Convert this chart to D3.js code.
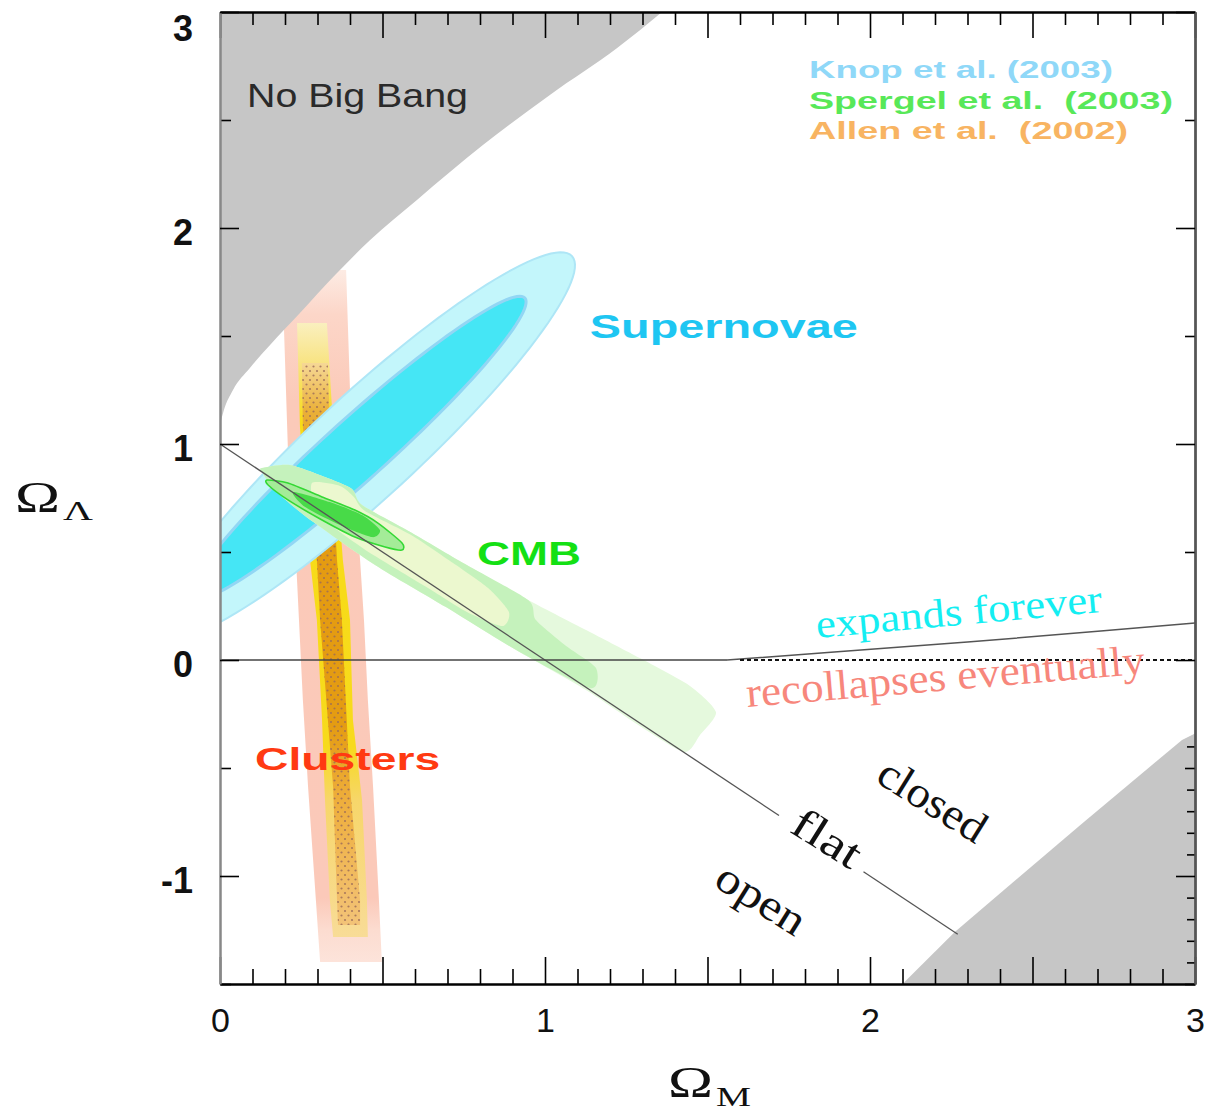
<!DOCTYPE html>
<html>
<head>
<meta charset="utf-8">
<script src="https://cdn.jsdelivr.net/npm/d3@7"></script>
<style>
  body { margin: 0; background: #fff; }
  svg { display: block; }
  .sans { font-family: "Liberation Sans", Arial, sans-serif; }
  .serif { font-family: "Liberation Serif", "Times New Roman", serif; }
</style>
</head>
<body>
<div id="chart"></div>
<script>
// ---- data (Omega_M, Omega_Lambda) ----
var noBigBang = [[0,1.088],[0.012,1.157],[0.04,1.25],[0.092,1.352],[0.154,1.458],[0.246,1.606],[0.354,1.782],
  [0.462,1.944],[0.606,2.130],[0.809,2.384],[1.015,2.616],[1.222,2.833],[1.36,3.0]]
var lowerCorner = [[2.10,-1.5],[2.26,-1.26],[2.65,-0.76],[2.96,-0.37],[3.0,-0.34],[3.0,-1.5]]

var flatLeft = [[0,1.0],[1.72,-0.72]]
var flatRight = [[1.98,-0.98],[2.27,-1.27]]
var expandBoundary = [[1.56,0],[1.89,0.037],[2.30,0.083],[2.71,0.134],[3.0,0.171]]
var zeroSolid = [[0,0],[1.56,0]]
var zeroDashed = [[1.60,0],[3.0,0]]

// supernovae contours: centre, end of major axis, end of minor axis
var snOuter = [[0.449,0.991],[1.083,1.870],[0.558,0.814]]
var snInner = [[0.425,0.981],[0.938,1.676],[0.488,0.875]]

// CMB contours
var cmbFaint = [[0.129,0.889],[0.215,0.903],[0.323,0.847],[0.406,0.792],[0.437,0.718],[0.591,0.588],
  [0.754,0.444],[0.948,0.278],[1.138,0.130],[1.292,0.009],[1.446,-0.120],[1.526,-0.241],[1.477,-0.347],
  [1.428,-0.426],[1.292,-0.306],[1.126,-0.139],[0.911,0.046],[0.695,0.245],[0.477,0.440],[0.262,0.667],
  [0.169,0.787],[0.129,0.870]]
var cmbMid = [[0.129,0.889],[0.215,0.903],[0.323,0.847],[0.406,0.792],[0.437,0.718],[0.591,0.588],
  [0.754,0.444],[0.948,0.278],[0.972,0.185],[1.065,0.065],[1.157,-0.037],[1.138,-0.130],[0.911,0.046],
  [0.695,0.245],[0.477,0.440],[0.262,0.667],[0.169,0.787],[0.129,0.870]]
var cmbPale = [[0.283,0.819],[0.369,0.806],[0.412,0.755],[0.446,0.690],[0.588,0.579],[0.717,0.449],
  [0.825,0.333],[0.889,0.222],[0.868,0.157],[0.760,0.222],[0.640,0.333],[0.477,0.481],[0.369,0.593],[0.295,0.690]]
var cmbInner = [[0.145,0.833],[0.209,0.819],[0.314,0.755],[0.415,0.694],[0.486,0.634],[0.560,0.542],
  [0.560,0.509],[0.508,0.523],[0.415,0.569],[0.314,0.648],[0.209,0.741],[0.148,0.810]]
var cmbCore = [[0.225,0.778],[0.338,0.731],[0.437,0.671],[0.492,0.602],[0.468,0.569],[0.369,0.625],[0.262,0.708]]

// cluster bands
var clOuter = [[0.194,1.806],[0.197,1.528],[0.209,0.972],[0.234,0.463],[0.243,0.185],[0.255,-0.185],
  [0.271,-0.588],[0.295,-1.111],[0.308,-1.398],[0.498,-1.398],[0.489,-1.111],[0.471,-0.588],[0.455,-0.185],
  [0.443,0.185],[0.431,0.463],[0.406,0.972],[0.394,1.528],[0.388,1.806]]
var clMid = [[0.237,1.560],[0.246,1.079],[0.277,0.463],[0.298,0.185],[0.314,-0.278],[0.323,-0.648],
  [0.338,-1.111],[0.348,-1.282],[0.455,-1.282],[0.452,-1.111],[0.437,-0.648],[0.409,-0.278],[0.400,0.185],
  [0.378,0.463],[0.348,1.079],[0.329,1.560]]
var clInner = [[0.252,1.375],[0.255,1.079],[0.298,0.463],[0.308,0.185],[0.348,-0.588],[0.360,-1.111],
  [0.363,-1.227],[0.431,-1.227],[0.431,-1.111],[0.400,-0.588],[0.375,0.185],[0.360,0.463],[0.338,1.079],[0.332,1.375]]

var legendNames = ["Knop et al. (2003)", "Spergel et al.  (2003)", "Allen et al.  (2002)"]
var xLabels = [0, 1, 2, 3]
var yLabels = [3, 2, 1, 0, -1]
var xMajor = [0, 0.5, 1, 1.5, 2, 2.5, 3]
var yMajor = [-1, 0, 1, 2, 3]
var yHalf = [-1.5, -0.5, 0.5, 1.5, 2.5]

// ---- setup ----
var W = 1209, H = 1114

var x = d3.scaleLinear().domain([0, 3]).range([220, 1195])
var y = d3.scaleLinear().domain([-1.5, 3]).range([984, 12])

var svg = d3.select("#chart").append("svg")
  .attr("width", W)
  .attr("height", H)

var defs = svg.append("defs")
defs.append("clipPath").attr("id", "plotclip")
  .append("rect")
  .attr("x", x(0)).attr("y", y(3))
  .attr("width", x(3) - x(0)).attr("height", y(-1.5) - y(3))

function grad(id, stops) {
  var g = defs.append("linearGradient").attr("id", id)
    .attr("gradientUnits", "userSpaceOnUse")
    .attr("x1", 0).attr("x2", 0).attr("y1", y(1.85)).attr("y2", y(-1.45))
  stops.forEach(function(s) {
    g.append("stop").attr("offset", (y(s[0]) - y(1.85)) / (y(-1.45) - y(1.85))).attr("stop-color", s[1])
  })
}
grad("gOuter", [[1.85,"#fdf0ea"],[1.6,"#fcd6c8"],[1.2,"#fbcab9"],[-1.1,"#fbc9b9"],[-1.25,"#fcdcd0"],[-1.45,"#fde6de"]])
grad("gMid", [[1.6,"#faf2cc"],[1.35,"#f8e27a"],[1.1,"#f7dc16"],[-0.4,"#f7da1c"],[-0.65,"#f7d66a"],[-1.3,"#f8dc98"]])
grad("gInner", [[1.4,"#f7dca0"],[1.15,"#eab038"],[0.9,"#e49b10"],[-0.3,"#e49c12"],[-0.65,"#eeae3c"],[-1.25,"#f3c47a"]])

var dots = defs.append("pattern").attr("id", "dots")
  .attr("patternUnits", "userSpaceOnUse").attr("width", 7).attr("height", 9)
dots.append("circle").attr("cx", 2).attr("cy", 2).attr("r", 1.1).attr("fill", "#9a6a58")
dots.append("circle").attr("cx", 5.5).attr("cy", 6.5).attr("r", 1.1).attr("fill", "#9a6a58")

var pathLine = d3.line().x(function(d) { return x(d[0]) }).y(function(d) { return y(d[1]) })
var smoothLine = d3.line().x(function(d) { return x(d[0]) }).y(function(d) { return y(d[1]) })
  .curve(d3.curveMonotoneX)
var blobLine = d3.line().x(function(d) { return x(d[0]) }).y(function(d) { return y(d[1]) })
  .curve(d3.curveCardinalClosed.tension(0.3))

function ellipse(e) {
  var c = e[0], a = e[1], b = e[2]
  return d3.range(0, 120).map(function(i) {
    var t = i / 120 * 2 * Math.PI
    return [c[0] + (a[0] - c[0]) * Math.cos(t) + (b[0] - c[0]) * Math.sin(t),
            c[1] + (a[1] - c[1]) * Math.cos(t) + (b[1] - c[1]) * Math.sin(t)]
  })
}

var plot = svg.append("g").attr("clip-path", "url(#plotclip)")

// clusters
plot.append("path").attr("d", pathLine(clOuter) + "Z").attr("fill", "url(#gOuter)")
plot.append("path").attr("d", pathLine(clMid) + "Z").attr("fill", "url(#gMid)")
plot.append("path").attr("d", pathLine(clInner) + "Z").attr("fill", "url(#gInner)")
plot.append("path").attr("d", pathLine(clInner) + "Z").attr("fill", "url(#dots)").attr("opacity", 0.8)

// supernovae
plot.append("path").attr("d", pathLine(ellipse(snOuter)) + "Z")
  .attr("fill", "#c3f6fb").attr("stroke", "#aee6f6").attr("stroke-width", 2)
plot.append("path").attr("d", pathLine(ellipse(snInner)) + "Z")
  .attr("fill", "#45e6f5").attr("stroke", "#92d6f4").attr("stroke-width", 3)

// cmb
plot.append("path").attr("d", blobLine(cmbFaint)).attr("fill", "#e5f9dd")
plot.append("path").attr("d", blobLine(cmbMid)).attr("fill", "#c5f2bc")
plot.append("path").attr("d", blobLine(cmbPale)).attr("fill", "#ecf8cf")
plot.append("path").attr("d", blobLine(cmbInner)).attr("fill", "#a4ec98")
  .attr("stroke", "#34d834").attr("stroke-width", 1.6)
plot.append("path").attr("d", blobLine(cmbCore)).attr("fill", "#48da48")

// excluded regions
plot.append("path")
  .attr("d", smoothLine(noBigBang) + "L" + x(0) + "," + y(3) + "Z")
  .attr("fill", "#c6c6c6")
plot.append("path").attr("d", pathLine(lowerCorner) + "Z").attr("fill", "#c6c6c6")

// boundaries
plot.append("path").attr("d", pathLine(flatLeft)).attr("stroke", "#555").attr("stroke-width", 1.3).attr("fill", "none")
plot.append("path").attr("d", pathLine(flatRight)).attr("stroke", "#555").attr("stroke-width", 1.3).attr("fill", "none")
plot.append("path").attr("d", pathLine(zeroSolid)).attr("stroke", "#444").attr("stroke-width", 1.5).attr("fill", "none")
plot.append("path").attr("d", pathLine(expandBoundary)).attr("stroke", "#555").attr("stroke-width", 1.5).attr("fill", "none")
plot.append("path").attr("d", pathLine(zeroDashed)).attr("stroke", "#111").attr("stroke-width", 2)
  .attr("stroke-dasharray", "4,3").attr("fill", "none")

// ---- axes ----
function clean(g, col, w) {
  g.select(".domain").attr("stroke", col).attr("stroke-width", w)
  g.selectAll(".tick line").attr("stroke", "#000").attr("stroke-width", 1.6)
}
function fmt(d) { return d < 0 ? "-" + Math.abs(d) : String(d) }
var xMinor = d3.range(1, 30).map(function(i) { return i / 10 }).filter(function(v) { return Math.round(v * 10) % 5 !== 0 })

function axisGroup(tx, ty) {
  return svg.append("g").attr("transform", "translate(" + tx + "," + ty + ")")
}

var axB = axisGroup(0, y(-1.5))
axB.call(d3.axisBottom(x).tickValues(xMinor).tickSize(-15).tickSizeOuter(0).tickFormat(""))
axB.call(function(g) { clean(g, "#000", 2.2) })
var axBMaj = axisGroup(0, y(-1.5))
axBMaj.call(d3.axisBottom(x).tickValues(xMajor).tickSize(-27).tickSizeOuter(0).tickFormat(""))
axBMaj.call(function(g) { clean(g, "#000", 2.2) })
var axBLab = axisGroup(0, y(-1.5))
axBLab.call(d3.axisBottom(x).tickValues(xLabels).tickSize(0).tickPadding(24).tickFormat(fmt))
axBLab.select(".domain").remove()
axBLab.selectAll("text").attr("font-size", 34).attr("fill", "#111").attr("font-family", "Liberation Sans, Arial, sans-serif")

var axT = axisGroup(0, y(3))
axT.call(d3.axisTop(x).tickValues(xMinor).tickSize(-13).tickSizeOuter(0).tickFormat(""))
axT.call(function(g) { clean(g, "#000", 2.2) })
var axTMaj = axisGroup(0, y(3))
axTMaj.call(d3.axisTop(x).tickValues(xMajor).tickSize(-26).tickSizeOuter(0).tickFormat(""))
axTMaj.call(function(g) { clean(g, "#000", 2.2) })

var axL = axisGroup(x(0), 0)
axL.call(d3.axisLeft(y).tickValues(yHalf).tickSize(-11).tickSizeOuter(0).tickFormat(""))
axL.call(function(g) { clean(g, "#888", 2) })
var axLMaj = axisGroup(x(0), 0)
axLMaj.call(d3.axisLeft(y).tickValues(yMajor).tickSize(-19).tickSizeOuter(0).tickFormat(""))
axLMaj.call(function(g) { clean(g, "#888", 2) })
var axLLab = axisGroup(x(0), 0)
axLLab.call(d3.axisLeft(y).tickValues(yLabels).tickSize(0).tickPadding(27).tickFormat(fmt))
axLLab.select(".domain").remove()
axLLab.selectAll("text")
  .attr("font-size", 36).attr("font-weight", "bold").attr("fill", "#111")
  .attr("font-family", "Liberation Sans, Arial, sans-serif")
  .attr("dy", function(d) { return d === 3 ? "0.78em" : "0.46em" })

var rightMinor = d3.range(-14, -3).map(function(i) { return i / 10 }).filter(function(v) { return Math.round(v * 10) % 5 !== 0 })
var axR = axisGroup(x(3), 0)
axR.call(d3.axisRight(y).tickValues(rightMinor).tickSize(-8).tickSizeOuter(0).tickFormat(""))
axR.call(function(g) { clean(g, "#555", 2) })
var axRHalf = axisGroup(x(3), 0)
axRHalf.call(d3.axisRight(y).tickValues(yHalf).tickSize(-10).tickSizeOuter(0).tickFormat(""))
axRHalf.call(function(g) { clean(g, "#555", 2) })
var axRMaj = axisGroup(x(3), 0)
axRMaj.call(d3.axisRight(y).tickValues(yMajor).tickSize(-19).tickSizeOuter(0).tickFormat(""))
axRMaj.call(function(g) { clean(g, "#555", 2) })

// axis titles
function omega(x0, yb, sub, subLen, subDy) {
  svg.append("text").attr("class", "serif").attr("x", x0).attr("y", yb)
    .attr("font-size", 44).attr("fill", "#111")
    .attr("textLength", 45).attr("lengthAdjust", "spacingAndGlyphs").text("Ω")
  svg.append("text").attr("class", "serif").attr("x", x0 + 48).attr("y", yb + subDy)
    .attr("font-size", 28).attr("fill", "#111")
    .attr("textLength", subLen).attr("lengthAdjust", "spacingAndGlyphs").text(sub)
}
omega(15, 512, "Λ", 30, 8)
omega(668, 1097, "M", 35, 9)

// ---- annotations ----
function addLabel(txt, at, size, len, fill, cls, weight, rot) {
  var t = svg.append("text").attr("class", cls)
    .attr("x", x(at[0])).attr("y", y(at[1]))
    .attr("font-size", size).attr("fill", fill)
    .attr("textLength", len).attr("lengthAdjust", "spacingAndGlyphs")
    .text(txt)
  if (weight) t.attr("font-weight", weight)
  if (rot) t.attr("transform", "rotate(" + rot + "," + x(at[0]) + "," + y(at[1]) + ")")
  return t
}

addLabel("No Big Bang", [0.083, 2.560], 33, 221, "#2a2a2a", "sans")
addLabel("Supernovae", [1.138, 1.491], 33, 268, "#1ec6f2", "sans", "bold")
addLabel("CMB", [0.791, 0.440], 34, 104, "#14e014", "sans", "bold")
addLabel("Clusters", [0.108, -0.509], 32, 185, "#ff3a12", "sans", "bold")

var legendColors = ["#8fd8f8", "#58e858", "#f8b462"]
var legendLen = [304, 364, 319]
legendNames.forEach(function(n, i) {
  svg.append("text").attr("class", "sans")
    .attr("x", 809).attr("y", 78 + i * 30.5)
    .attr("font-size", 24).attr("font-weight", "bold")
    .attr("fill", legendColors[i])
    .attr("textLength", legendLen[i]).attr("lengthAdjust", "spacingAndGlyphs")
    .style("white-space", "pre")
    .text(n)
})

addLabel("expands forever", [1.837, 0.102], 40, 287, "#14eef2", "serif", null, -5.2)
addLabel("recollapses eventually", [1.622, -0.218], 42, 400, "#f7877c", "serif", null, -4.8)
addLabel("closed", [2.012, -0.560], 44, 120, "#111", "serif", null, 32)
addLabel("flat", [1.748, -0.792], 44, 74, "#111", "serif", null, 32)
addLabel("open", [1.514, -1.042], 44, 98, "#111", "serif", null, 32)
</script>
</body>
</html>
